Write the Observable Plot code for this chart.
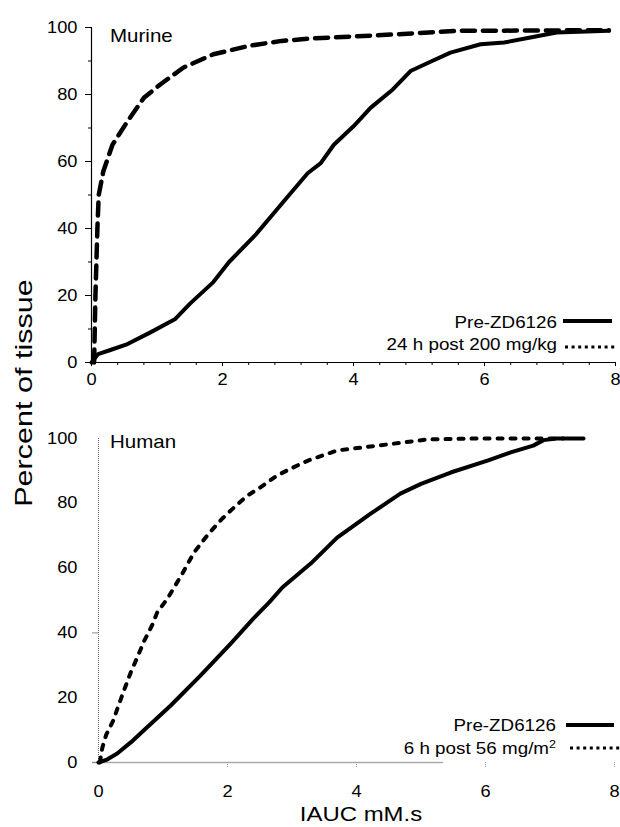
<!DOCTYPE html>
<html><head><meta charset="utf-8">
<script src="https://cdn.jsdelivr.net/npm/d3@7"></script>
<script src="https://cdn.jsdelivr.net/npm/@observablehq/plot@0.6"></script>
<style>
body{margin:0;background:#fff;}
#wrap{position:relative;width:620px;height:827px;overflow:hidden;font-family:"Liberation Sans",Arial,sans-serif;}
#wrap svg{position:absolute;left:0;}
</style></head><body><div id="wrap"></div>
<script>
// ---- data (IAUC mM.s, percent of tissue) ----
const xTicks = [0, 2, 4, 6, 8];
const xMinorTicks = [0.4,0.8,1.2,1.6,2.4,2.8,3.2,3.6,4.4,4.8,5.2,5.6,6.4,6.8,7.2,7.6];
const yTicks = [0, 20, 40, 60, 80, 100];
const yMinorTicks = [10, 30, 50, 70, 90];

const murinePre = [[0,0],[0.1,2.5],[0.3,3.8],[0.55,5.5],[0.9,9],[1.28,13],[1.5,17.5],[1.86,24],[2.1,30],[2.5,38],[2.93,48],[3.3,56.5],[3.5,59.5],[3.7,65],[4.0,70.5],[4.26,76],[4.6,81.5],[4.87,87],[5.2,90],[5.48,92.5],[5.94,95],[6.3,95.5],[6.7,97],[7.1,98.5],[7.9,99]];
const murinePost = [[0.04,0],[0.06,20],[0.09,40],[0.11,50],[0.18,57],[0.32,65],[0.55,72],[0.8,79],[1.05,83],[1.4,88],[1.86,92],[2.4,94.5],[2.9,96],[3.35,96.7],[4.5,97.8],[5.6,99],[7.9,99.2]];
const humanPre = [[0,0],[0.12,0.8],[0.29,2.8],[0.5,6.2],[0.7,9.9],[1.12,17.6],[1.58,26.8],[2.05,36.7],[2.4,44.4],[2.65,49.5],[2.85,54],[3.29,61.4],[3.7,69.4],[4.22,76.8],[4.68,83],[5.0,86],[5.46,89.5],[6.03,93.2],[6.39,95.7],[6.74,97.8],[6.9,99.5],[7.1,100],[7.52,100]];
const humanPost = [[0.02,0],[0.06,4.6],[0.12,8.6],[0.23,13],[0.31,17.6],[0.4,22.5],[0.5,27.8],[0.6,32.4],[0.71,37.6],[0.83,42.3],[0.91,46.3],[1.07,50.6],[1.3,58.3],[1.48,64.8],[1.71,70.7],[1.92,75.3],[2.1,78.7],[2.31,82.4],[2.51,84.9],[2.77,88.6],[2.98,90.7],[3.18,92.6],[3.29,93.5],[3.7,96.3],[4.33,97.8],[5.1,99.7],[5.88,100],[7.2,100]];

const panelTop = "Murine", panelBottom = "Human";
const legendTop = ["Pre-ZD6126", "24 h post 200 mg/kg"];
const legendBottom = ["Pre-ZD6126", "6 h post 56 mg/m"];
const yTitle = "Percent of tissue", xTitle = "IAUC mM.s";

const FONT = '"Liberation Sans", Arial, sans-serif';
const SX = 1.14;
const wrap = document.getElementById("wrap");

function stretchText(svg) {
  svg.querySelectorAll("text").forEach(t => {
    const tr = t.getAttribute("transform") || "";
    t.setAttribute("transform", tr + ` scale(${SX},1)`);
  });
}

const topPlot = Plot.plot({
  width: 620, height: 395,
  marginLeft: 91, marginRight: 5, marginTop: 27, marginBottom: 33,
  x: {domain: [0, 8]}, y: {domain: [0, 100]},
  style: {fontFamily: FONT, fontSize: "16px", color: "#000", background: "transparent"},
  marks: [
    Plot.axisX({ticks: xMinorTicks, tickSize: 3, tickFormat: () => "", stroke: "#000"}),
    Plot.axisX({ticks: xTicks, tickSize: 4, tickPadding: 7, stroke: "#000", fill: "#000", fontSize: 16}),
    Plot.axisY({ticks: yMinorTicks, tickSize: 3, tickFormat: () => "", stroke: "#000"}),
    Plot.axisY({ticks: yTicks, tickSize: 6, tickPadding: 8, stroke: "#000", fill: "#000", fontSize: 16}),
    Plot.ruleY([0], {stroke: "#000", strokeWidth: 1.2}),
    Plot.ruleX([0], {stroke: "#000", strokeWidth: 1.2}),
    Plot.line(murinePost, {stroke: "#000", strokeWidth: 4.5, strokeDasharray: "13,8"}),
    Plot.line(murinePre, {stroke: "#000", strokeWidth: 4, strokeLinejoin: "round"})
  ]
});
topPlot.style.top = "0px";
stretchText(topPlot);
wrap.appendChild(topPlot);

const bottomPlot = Plot.plot({
  width: 620, height: 427,
  marginLeft: 98, marginRight: 6, marginTop: 38, marginBottom: 65,
  x: {domain: [0, 8]}, y: {domain: [0, 100]},
  style: {fontFamily: FONT, fontSize: "16px", color: "#000", background: "transparent"},
  marks: [
    Plot.ruleX([0], {stroke: "#666", strokeWidth: 1, strokeDasharray: "1,1"}),
    Plot.ruleY([0], {x1: -0.09, x2: 5.35, stroke: "#aaa", strokeWidth: 1.6}),
    Plot.axisX({ticks: xTicks.filter(d => d > 0), tickSize: 5, tickFormat: () => "", stroke: "#999", strokeDasharray: "1,1"}),
    Plot.axisX({ticks: xTicks, tickSize: 0, tickPadding: 23, fill: "#000", fontSize: 16}),
    Plot.axisY({ticks: [0, 40], tickSize: 6, tickFormat: () => "", stroke: "#888"}),
    Plot.axisY({ticks: yTicks, tickSize: 0, tickPadding: 21, fill: "#000", fontSize: 16}),
    Plot.line(humanPost, {stroke: "#000", strokeWidth: 4, strokeDasharray: "5,8"}),
    Plot.line(humanPre, {stroke: "#000", strokeWidth: 4, strokeLinejoin: "round"})
  ]
});
bottomPlot.style.top = "400px";
stretchText(bottomPlot);
wrap.appendChild(bottomPlot);

// ---- overlay: panel labels, legends, axis titles ----
const ov = d3.select(wrap).append("svg")
  .attr("width", 620).attr("height", 827).style("top", "0px")
  .style("font-family", FONT);

function label(x, y, txt, size, anchor) {
  return ov.append("text").attr("transform", `translate(${x},${y}) scale(${SX},1)`)
    .attr("text-anchor", anchor).attr("font-size", size).attr("fill", "#000").text(txt);
}
label(110, 42, panelTop, 18, "start");
label(110, 448, panelBottom, 18, "start");

function legend(items, textX, baselines, lineY, lineX, sup) {
  items.forEach((txt, i) => {
    const t = label(textX, baselines[i], txt, 16.5, "end");
    if (sup && i === 1) t.append("tspan").attr("dy", -6).attr("font-size", 11).text("2");
    ov.append("line")
      .attr("x1", lineX[i][0]).attr("x2", lineX[i][1])
      .attr("y1", lineY[i]).attr("y2", lineY[i])
      .attr("stroke", "#000")
      .attr("stroke-width", i === 0 ? 4 : 3)
      .attr("stroke-dasharray", i === 0 ? null : "3,3.6");
  });
}
legend(legendTop, 557, [328, 350], [321, 347], [[563, 612], [565, 615]], false);
legend(legendBottom, 556, [731, 754], [725, 748], [[566, 614], [570, 620]], true);

ov.append("text")
  .attr("transform", `translate(32,393) rotate(-90) scale(1.3,1)`)
  .attr("text-anchor", "middle").attr("font-size", 23.5).attr("fill", "#000").text(yTitle);
label(361, 821, xTitle, 21, "middle");
</script></body></html>
